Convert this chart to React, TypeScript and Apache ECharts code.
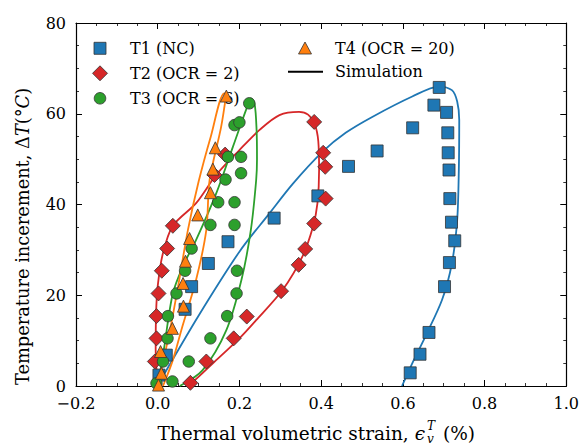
import React, { useEffect, useRef } from "react";
import * as echarts from "echarts";

// ---------- Data ----------
const t1X = [0.003, 0.021, 0.067, 0.083, 0.124, 0.172, 0.285, 0.392, 0.467, 0.537, 0.624, 0.689, 0.676, 0.707, 0.710, 0.711, 0.713, 0.715, 0.719, 0.727, 0.714, 0.702, 0.664, 0.642, 0.618];
const t1Y = [2.4, 6.8, 16.9, 21.9, 27.0, 31.8, 37.0, 41.9, 48.4, 51.8, 56.9, 65.8, 61.9, 60.3, 55.8, 51.4, 47.6, 41.3, 36.1, 32.0, 27.2, 21.9, 11.8, 7.0, 2.9];

const t2X = [-0.007, -0.003, -0.003, 0.002, 0.010, 0.023, 0.037, 0.139, 0.165, 0.383, 0.405, 0.410, 0.411, 0.383, 0.361, 0.345, 0.302, 0.218, 0.186, 0.119, 0.080];
const t2Y = [5.4, 10.5, 15.4, 20.4, 25.4, 30.3, 35.3, 46.5, 51.0, 58.2, 51.4, 48.3, 41.3, 35.8, 30.2, 26.7, 20.9, 15.3, 10.5, 5.4, 0.7];

const t3X = [-0.003, 0.013, 0.024, 0.025, 0.046, 0.067, 0.083, 0.129, 0.148, 0.166, 0.172, 0.188, 0.200, 0.224, 0.204, 0.204, 0.188, 0.188, 0.194, 0.193, 0.170, 0.129, 0.076, 0.036];
const t3Y = [0.6, 5.4, 10.5, 15.4, 20.4, 25.4, 30.3, 35.5, 40.5, 45.5, 50.5, 57.5, 58.1, 62.3, 50.5, 46.9, 40.5, 35.5, 25.4, 20.4, 15.4, 10.5, 5.4, 1.0];

const t4X = [0.002, 0.009, 0.007, 0.036, 0.063, 0.062, 0.068, 0.078, 0.098, 0.129, 0.135, 0.141, 0.168];
const t4Y = [0.2, 2.8, 7.6, 12.7, 17.6, 22.6, 27.5, 32.5, 37.7, 42.6, 47.8, 52.5, 63.9];

// Simulation curves (ordered along the loop)
const sim1X = [0.0, 0.017, 0.1, 0.2, 0.273, 0.33, 0.403, 0.46, 0.525, 0.623, 0.688, 0.72, 0.733, 0.738, 0.737, 0.733, 0.72, 0.696, 0.655, 0.623, 0.598];
const sim1Y = [0, 2.8, 15.5, 29.6, 38.0, 44.5, 51.6, 55.8, 59.3, 63.8, 66.0, 65.2, 62.7, 58.6, 47.6, 36.6, 27.0, 19.0, 10.9, 5.0, 0];

const sim2X = [0.0, -0.005, -0.004, 0.0, 0.012, 0.037, 0.094, 0.143, 0.2, 0.25, 0.298, 0.346, 0.368, 0.385, 0.393, 0.395, 0.391, 0.38, 0.354, 0.306, 0.241, 0.2, 0.135, 0.086, 0.07];
const sim2Y = [0, 8, 16, 22, 29, 35.3, 40.3, 46.5, 52, 56.5, 59.7, 60.4, 59.8, 57.5, 54, 47.6, 40.3, 35.1, 28.5, 21.2, 14.5, 10.5, 5, 0.9, 0];

const sim3X = [0.0, 0.015, 0.037, 0.065, 0.094, 0.143, 0.184, 0.216, 0.228, 0.237, 0.242, 0.243, 0.241, 0.228, 0.205, 0.168, 0.11, 0.054];
const sim3Y = [0, 8, 20.4, 27, 32.2, 42.4, 52.7, 60.8, 63.4, 62.3, 56.4, 50, 45.4, 34.4, 23.4, 12.3, 3.5, 0];

const sim4X = [0.0, 0.01, 0.03, 0.05, 0.074, 0.1, 0.13, 0.163, 0.168, 0.155, 0.127, 0.119, 0.094, 0.06, 0.037, 0.013];
const sim4Y = [0, 4, 12.3, 22, 34.4, 45, 55, 64.5, 64.5, 57, 45.4, 34.4, 23.4, 13, 5.7, 0];

const xTicks = { min: -0.2, max: 1.0, interval: 0.2 };
const yTicks = { min: 0, max: 80, interval: 20 };

const names = ["T1 (NC)", "T2 (OCR = 2)", "T3 (OCR = 6)", "T4 (OCR = 20)", "Simulation"];
const colors = ["#1f77b4", "#d62728", "#2ca02c", "#ff7f0e"];

const FONT = "DejaVu Serif";

const zip = (xs: number[], ys: number[]) => xs.map((x, i) => [x, ys[i]]);

export default function App() {
  const ref = useRef<HTMLDivElement>(null);
  useEffect(() => {
    if (!ref.current) return;
    const chart = echarts.init(ref.current, undefined, { renderer: "svg" });

    const axisCommon = {
      axisLine: { show: true, onZero: false, lineStyle: { color: "#000", width: 1.2 } },
      axisTick: { show: true, inside: true, length: 6, lineStyle: { color: "#000", width: 1 } },
      minorTick: { show: true, splitNumber: 4, length: 3, lineStyle: { color: "#000", width: 0.8 } },
      splitLine: { show: false },
    };
    const fmtX = (v: number) => {
      const s = (Math.abs(v) < 1e-9 ? 0 : v).toFixed(1);
      return s.replace("-", "\u2212");
    };

    const simSeries = [
      [sim1X, sim1Y],
      [sim2X, sim2Y],
      [sim3X, sim3Y],
      [sim4X, sim4Y],
    ].map((p, i) => ({
      type: "line",
      name: "sim" + (i + 1),
      data: zip(p[0], p[1]),
      smooth: 0.3,
      showSymbol: false,
      symbol: "none",
      lineStyle: { color: colors[i], width: 1.8 },
      z: 2,
    }));

    const scatterDefs = [
      { x: t1X, y: t1Y, symbol: "rect", size: 12 },
      { x: t2X, y: t2Y, symbol: "diamond", size: 15 },
      { x: t3X, y: t3Y, symbol: "circle", size: 11.5 },
      { x: t4X, y: t4Y, symbol: "triangle", size: 12 },
    ];
    const scatterSeries = scatterDefs.map((d, i) => ({
      type: "scatter",
      name: names[i],
      data: zip(d.x, d.y),
      symbol: d.symbol,
      symbolSize: d.size,
      itemStyle: { color: colors[i], borderColor: "#333", borderWidth: 0.8, opacity: 1 },
      z: 3 + i,
    }));

    const mk = { stroke: "#333", lineWidth: 0.8 };
    const legendLabel = (x: number, y: number, text: string) => ({
      type: "text",
      x,
      y,
      z: 1,
      style: { text, fontFamily: FONT, fontSize: 16, fill: "#000", align: "left", verticalAlign: "middle" },
    });
    const legendGraphics = [
      { type: "rect", z: 1, shape: { x: 94, y: 42.3, width: 12, height: 12 }, style: { fill: colors[0], ...mk } },
      { type: "polygon", z: 1, shape: { points: [[100, 65.8], [107.5, 73.3], [100, 80.8], [92.5, 73.3]] }, style: { fill: colors[1], ...mk } },
      { type: "circle", z: 1, shape: { cx: 100, cy: 98.3, r: 5.8 }, style: { fill: colors[2], ...mk } },
      { type: "polygon", z: 1, shape: { points: [[305, 42], [311.5, 54], [298.5, 54]] }, style: { fill: colors[3], ...mk } },
      { type: "line", z: 1, shape: { x1: 288, y1: 71.7, x2: 323, y2: 71.7 }, style: { stroke: "#000", lineWidth: 2 } },
      legendLabel(130, 48.3, names[0]),
      legendLabel(130, 73.3, names[1]),
      legendLabel(130, 98.3, names[2]),
      legendLabel(335, 48.3, names[3]),
      legendLabel(335, 71.7, names[4]),
    ];

    chart.setOption({
      animation: false,
      backgroundColor: "#fff",
      textStyle: { fontFamily: FONT },
      grid: { left: 76, right: 14, top: 23, bottom: 60, containLabel: false },
      xAxis: [
        {
          type: "value",
          position: "bottom",
          ...xTicks,
          ...axisCommon,
          axisLabel: { show: true, margin: 9, color: "#000", fontFamily: FONT, fontSize: 16, formatter: fmtX },
        },
        {
          type: "value",
          position: "top",
          ...xTicks,
          ...axisCommon,
          axisLabel: { show: false },
        },
      ],
      yAxis: [
        {
          type: "value",
          position: "left",
          ...yTicks,
          ...axisCommon,
          axisLabel: { show: true, margin: 10, color: "#000", fontFamily: FONT, fontSize: 16 },
        },
        {
          type: "value",
          position: "right",
          ...yTicks,
          ...axisCommon,
          axisLabel: { show: false },
        },
      ],
      series: [...simSeries, ...scatterSeries],
      graphic: [
        ...legendGraphics,
        {
          type: "text",
          x: 22,
          y: 385,
          rotation: Math.PI / 2,
          style: {
            text: "Temperature incerement, \u0394{i|T}(\u00b0{i|C})",
            rich: { i: { fontStyle: "italic", fontFamily: FONT, fontSize: 17.8, fill: "#000" } },
            fontFamily: FONT,
            fontSize: 17.8,
            fill: "#000",
            align: "left",
            verticalAlign: "middle",
          },
        },
        {
          type: "text",
          x: 425,
          y: 433,
          style: {
            text: "Thermal volumetric strain, {i|\u03f5}",
            rich: { i: { fontStyle: "italic", fontFamily: FONT, fontSize: 18.5, fill: "#000" } },
            fontFamily: FONT,
            fontSize: 18.5,
            fill: "#000",
            align: "right",
            verticalAlign: "middle",
          },
        },
        {
          type: "text",
          x: 427,
          y: 426,
          style: { text: "T", fontFamily: FONT, fontStyle: "italic", fontSize: 12, fill: "#000", align: "left", verticalAlign: "middle" },
        },
        {
          type: "text",
          x: 427,
          y: 438.5,
          style: { text: "v", fontFamily: FONT, fontStyle: "italic", fontSize: 12, fill: "#000", align: "left", verticalAlign: "middle" },
        },
        {
          type: "text",
          x: 443,
          y: 433,
          style: { text: "(%)", fontFamily: FONT, fontSize: 18.5, fill: "#000", align: "left", verticalAlign: "middle" },
        },
      ],
    });
    return () => chart.dispose();
  }, []);
  return <div ref={ref} style={{ position: "absolute", left: 0, top: 0, width: 582, height: 446 }} />;
}
